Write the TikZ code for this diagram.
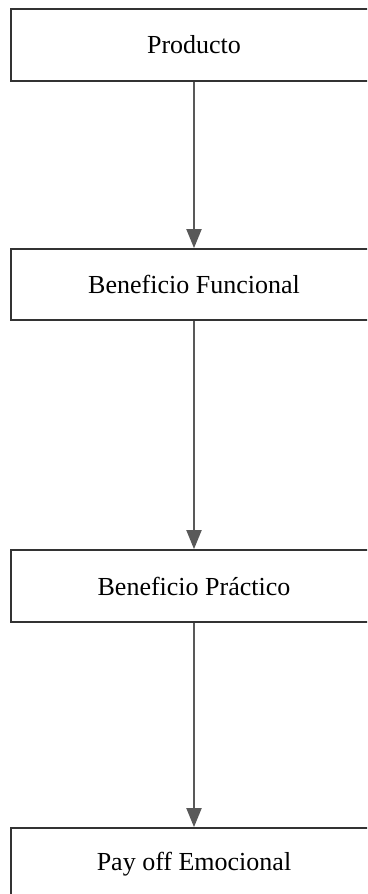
\documentclass[tikz,border=0pt]{standalone}
\usepackage{fontspec}
\setmainfont{Liberation Serif}
\usetikzlibrary{arrows.meta}
\begin{document}
\begin{tikzpicture}[x=1pt,y=-1pt,
	caja/.style={draw=black!80,line width=1.8pt,minimum width=366pt,minimum height=72pt,inner sep=0pt,font=\fontsize{26}{30}\selectfont},
	flecha/.style={draw=black!65,line width=2pt,-{Triangle[length=19pt,width=15pt]}}]
			\useasboundingbox (0,0) rectangle (367,894);
			\clip (0,0) rectangle (367,894);
			\node[caja] (prod) at (194,45) {Producto};
			\node[caja,minimum height=71pt] (func) at (194,284.5) {Beneficio Funcional};
			\node[caja] (prac) at (194,586) {Beneficio Práctico};
			\node[caja] (emoc) at (194,864) {Pay off Emocional};
			\draw[flecha] (prod) -- (func);
			\draw[flecha] (func) -- (prac);
			\draw[flecha] (prac) -- (emoc);
		\end{tikzpicture}
\end{document}
